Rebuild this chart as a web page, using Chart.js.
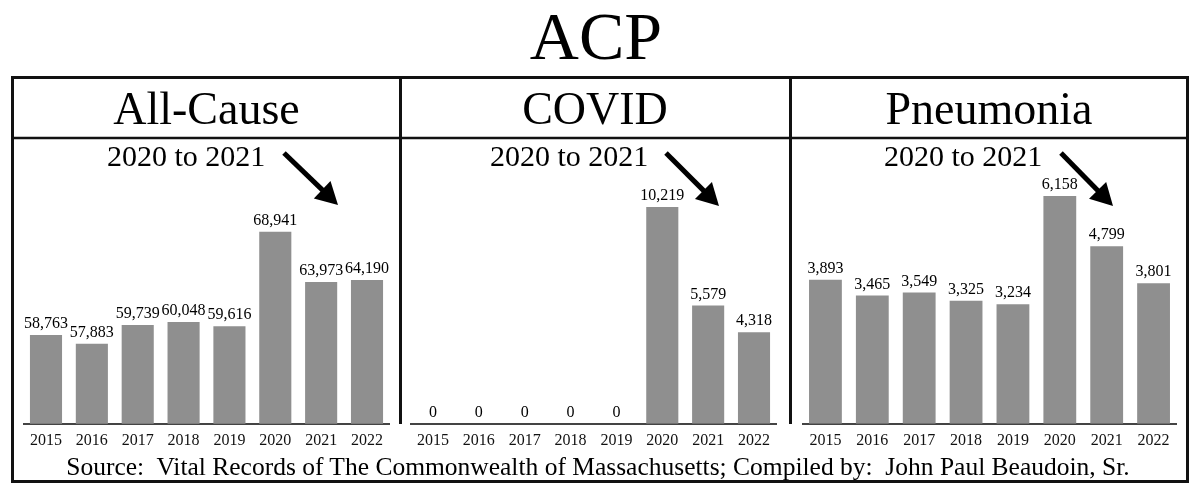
<!DOCTYPE html>
<html>
<head>
<meta charset="utf-8">
<script src="https://cdn.jsdelivr.net/npm/chart.js@4"></script>
<style>
    body { margin: 0; background: #fff; }
    #wrap { position: relative; width: 1200px; height: 495px; overflow: hidden; }
    canvas { position: absolute; top: 140px; }
    #overlay { position: absolute; left: 0; top: 0; pointer-events: none; }
    text { font-family: "Liberation Serif", "Times New Roman", serif; fill: #000; }
</style>
</head>
<body>
<div id="wrap">
    <canvas id="chartAll" width="367" height="317" style="left:23px"></canvas>
    <canvas id="chartCovid" width="367" height="317" style="left:410px"></canvas>
    <canvas id="chartPneu" width="375" height="317" style="left:802px"></canvas>

    <svg id="overlay" width="1200" height="495">
        <text x="596" y="59" font-size="68" text-anchor="middle">ACP</text>

        <rect x="12.5" y="77.5" width="1175" height="404" fill="none" stroke="#111" stroke-width="3"/>
        <line x1="12" y1="138" x2="1188" y2="138" stroke="#111" stroke-width="2.5"/>
        <line x1="400.5" y1="78" x2="400.5" y2="424" stroke="#111" stroke-width="3"/>
        <line x1="790.5" y1="78" x2="790.5" y2="424" stroke="#111" stroke-width="3"/>

        <text x="206.5" y="124" font-size="46" text-anchor="middle">All-Cause</text>
        <text x="595" y="124" font-size="46" text-anchor="middle">COVID</text>
        <text x="989" y="124" font-size="46" text-anchor="middle">Pneumonia</text>

        <text x="107" y="166" font-size="30">2020 to 2021</text>
        <text x="490" y="166" font-size="30">2020 to 2021</text>
        <text x="884" y="166" font-size="30">2020 to 2021</text>

        <g id="arrows"></g>

        <text x="598" y="475" font-size="25.5" text-anchor="middle" xml:space="preserve">Source:  Vital Records of The Commonwealth of Massachusetts; Compiled by:  John Paul Beaudoin, Sr.</text>
    </svg>
</div>

<script>
const years = ['2015', '2016', '2017', '2018', '2019', '2020', '2021', '2022'];
const allCause = [58763, 57883, 59739, 60048, 59616, 68941, 63973, 64190];
const covid = [0, 0, 0, 0, 0, 10219, 5579, 4318];
const pneumonia = [3893, 3465, 3549, 3325, 3234, 6158, 4799, 3801];

Chart.defaults.font.family = '"Liberation Serif", "Times New Roman", serif';
Chart.defaults.color = '#111';

// numbers above each bar
const valueLabels = {
    id: 'valueLabels',
    afterDatasetsDraw(chart) {
        const ctx = chart.ctx;
        const meta = chart.getDatasetMeta(0);
        const data = chart.data.datasets[0].data;
        ctx.save();
        ctx.font = '16px "Liberation Serif", serif';
        ctx.fillStyle = '#000';
        ctx.textAlign = 'center';
        ctx.textBaseline = 'bottom';
        meta.data.forEach((bar, i) => {
            ctx.fillText(data[i].toLocaleString('en-US'), bar.x, bar.y - 3);
        });
        ctx.restore();
    }
};

function crearGrafico(id, values, yMin, yMax) {
    return new Chart(document.getElementById(id), {
        type: 'bar',
        data: {
            labels: years,
            datasets: [{
                data: values,
                backgroundColor: '#8f8f8f',
                categoryPercentage: 1,
                barPercentage: 0.7
            }]
        },
        options: {
            responsive: false,
            animation: false,
            layout: { padding: { top: 10, left: 0, right: 0, bottom: 0 } },
            plugins: { legend: { display: false }, tooltip: { enabled: false } },
            scales: {
                x: {
                    grid: { display: false, drawTicks: false },
                    border: { display: true, color: '#444', width: 2 },
                    ticks: { font: { size: 16 }, color: '#111', padding: 7 }
                },
                y: { display: false, min: yMin, max: yMax }
            }
        },
        plugins: [valueLabels]
    });
}

crearGrafico('chartAll', allCause, 50000, 77000);
crearGrafico('chartCovid', covid, 0, 12900);
crearGrafico('chartPneu', pneumonia, 0, 7400);

// arrows "2020 to 2021"
function dibujarFlecha(x1, y1, x2, y2) {
    const g = document.getElementById('arrows');
    const dx = x2 - x1, dy = y2 - y1;
    const len = Math.hypot(dx, dy);
    const ux = dx / len, uy = dy / len;
    const head = 22, half = 12;
    const bx = x2 - ux * head, by = y2 - uy * head;
    const ns = 'http://www.w3.org/2000/svg';
    const line = document.createElementNS(ns, 'line');
    line.setAttribute('x1', x1);
    line.setAttribute('y1', y1);
    line.setAttribute('x2', bx + ux * 2);
    line.setAttribute('y2', by + uy * 2);
    line.setAttribute('stroke', '#000');
    line.setAttribute('stroke-width', 5);
    g.appendChild(line);
    const poly = document.createElementNS(ns, 'polygon');
    poly.setAttribute('points', `${x2},${y2} ${bx - uy * half},${by + ux * half} ${bx + uy * half},${by - ux * half}`);
    poly.setAttribute('fill', '#000');
    g.appendChild(poly);
}

dibujarFlecha(284, 153, 338, 205);
dibujarFlecha(666, 153, 719, 206);
dibujarFlecha(1061, 153, 1113, 206);
</script>
</body>
</html>
